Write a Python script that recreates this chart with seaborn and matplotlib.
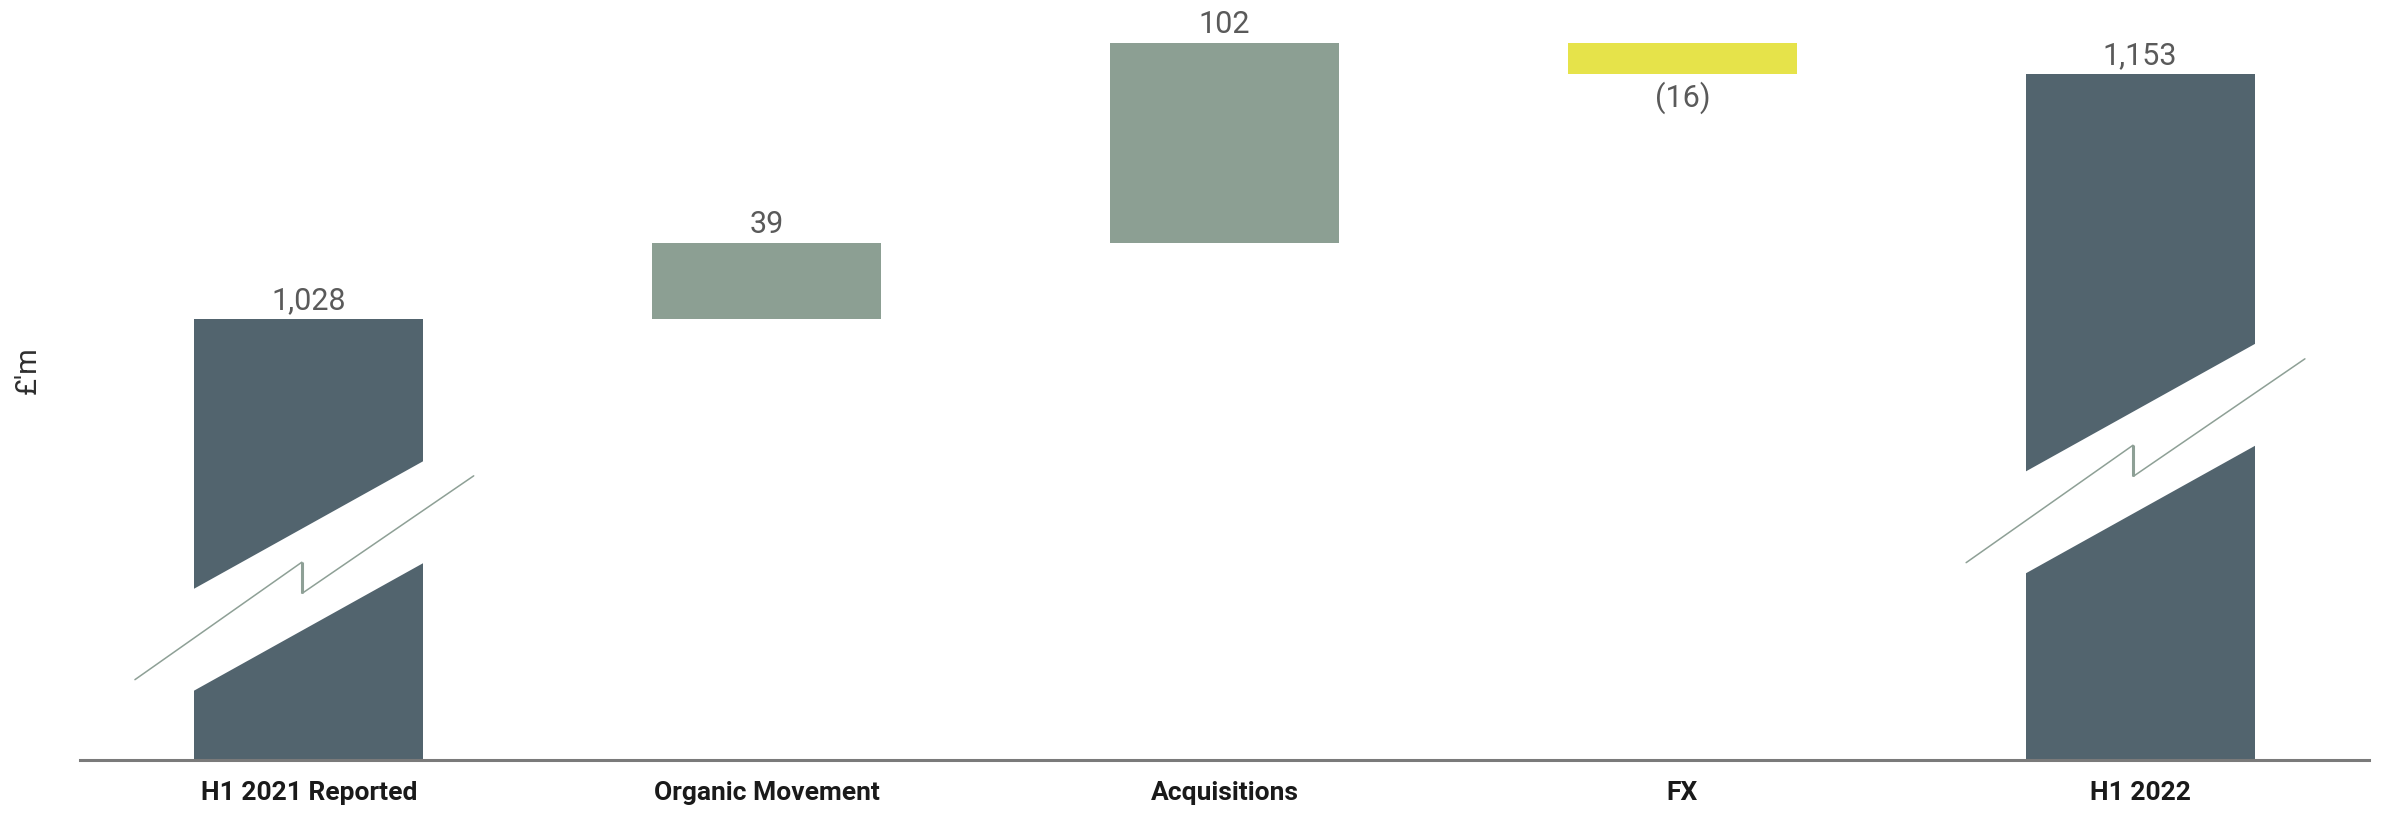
import numpy as np
import pandas as pd
import matplotlib
matplotlib.use("Agg")
import matplotlib.pyplot as plt
from matplotlib.patches import Polygon
import seaborn as sns

# ---- data -------------------------------------------------------------
categories = ["H1 2021 Reported", "Organic Movement", "Acquisitions", "FX", "H1 2022"]
values = [1028, 39, 102, -16, 1153]
kinds = ["total", "change", "change", "change", "total"]
value_labels = ["1,028", "39", "102", "(16)", "1,153"]

# ---- style ------------------------------------------------------------
sns.set_theme(style="white")
plt.rcParams["font.family"] = ["Roboto", "DejaVu Sans"]

DARK = "#52646e"
GREEN = "#8c9f93"
YELLOW = "#e6e34a"
LINE = "#8ea096"
AXIS_FLOOR = 803          # value at which the (broken) axis starts
AXIS_TOP = 1190.8

# waterfall geometry: bottoms/heights of each floating bar
bottoms, heights, colors = [], [], []
running = 0
for v, k in zip(values, kinds):
    if k == "total":
        bottoms.append(AXIS_FLOOR)
        heights.append(v - AXIS_FLOOR)
        colors.append(DARK)
        running = v
    else:
        lo, hi = sorted([running, running + v])
        bottoms.append(lo)
        heights.append(hi - lo)
        colors.append(GREEN if v > 0 else YELLOW)
        running += v

df = pd.DataFrame({"category": categories, "height": heights})

fig = plt.figure(figsize=(23.81, 8.15), dpi=100)
ax = fig.add_axes([80 / 2381, 55 / 815, 2289 / 2381, 760 / 815])

sns.barplot(data=df, x="category", y="height", order=categories,
            bottom=bottoms, width=0.5, errorbar=None, ax=ax,
            color=DARK, linewidth=0)
for patch, c in zip(ax.patches, colors):
    patch.set_facecolor(c)
    patch.set_edgecolor(c)

ax.set_xlim(-0.5, len(categories) - 0.5)
ax.set_ylim(AXIS_FLOOR, AXIS_TOP)

# axis-break markers on the two total bars
SLOPE = 130.0
HALF_GAP = 26.0
break_centres = {0: 897.0, 4: 956.7}
for xi, yc in break_centres.items():
    ext = 0.3
    band = Polygon([(xi - ext, yc - HALF_GAP - ext * SLOPE),
                    (xi + ext, yc - HALF_GAP + ext * SLOPE),
                    (xi + ext, yc + HALF_GAP + ext * SLOPE),
                    (xi - ext, yc + HALF_GAP - ext * SLOPE)],
                   closed=True, facecolor="white", edgecolor="none", zorder=3)
    ax.add_patch(band)
    xs = [xi - 0.38, xi - 0.015, xi - 0.015, xi + 0.36]
    ys = [yc - 53, yc + 7, yc - 9, yc + 51]
    ax.plot(xs, ys, color=LINE, lw=1.1, zorder=4, clip_on=False,
            solid_joinstyle="miter")
    ax.plot([xi - 0.015, xi - 0.015], [yc + 7, yc - 9], color=LINE, lw=2.2,
            zorder=4, solid_capstyle="butt")

# value labels
for i, (b, h, v, lab) in enumerate(zip(bottoms, heights, values, value_labels)):
    if v < 0:
        ax.annotate(lab, (i, b), xytext=(0, -5), textcoords="offset points",
                    ha="center", va="top", fontsize=22, color="#5a5a5a",
                    annotation_clip=False)
    else:
        ax.annotate(lab, (i, b + h), xytext=(0, 7), textcoords="offset points",
                    ha="center", va="baseline", fontsize=22, color="#5a5a5a",
                    annotation_clip=False)

# axes cosmetics
for side in ["top", "right", "left"]:
    ax.spines[side].set_visible(False)
ax.spines["bottom"].set_color("#7a7a7a")
ax.spines["bottom"].set_linewidth(2.2)
ax.set_yticks([])
ax.set_xlabel("")
ax.set_ylabel("")
ax.tick_params(axis="x", length=0, pad=15)
for t in ax.get_xticklabels():
    t.set_fontweight("bold")
    t.set_fontsize(19)
    t.set_color("#1a1a1a")

fig.text(28 / 2381, 1 - 370 / 815, "£'m", rotation=90, ha="center",
         va="center", fontsize=21, color="#2e2e2e")

fig.savefig("out.png", dpi=100, facecolor="white")
